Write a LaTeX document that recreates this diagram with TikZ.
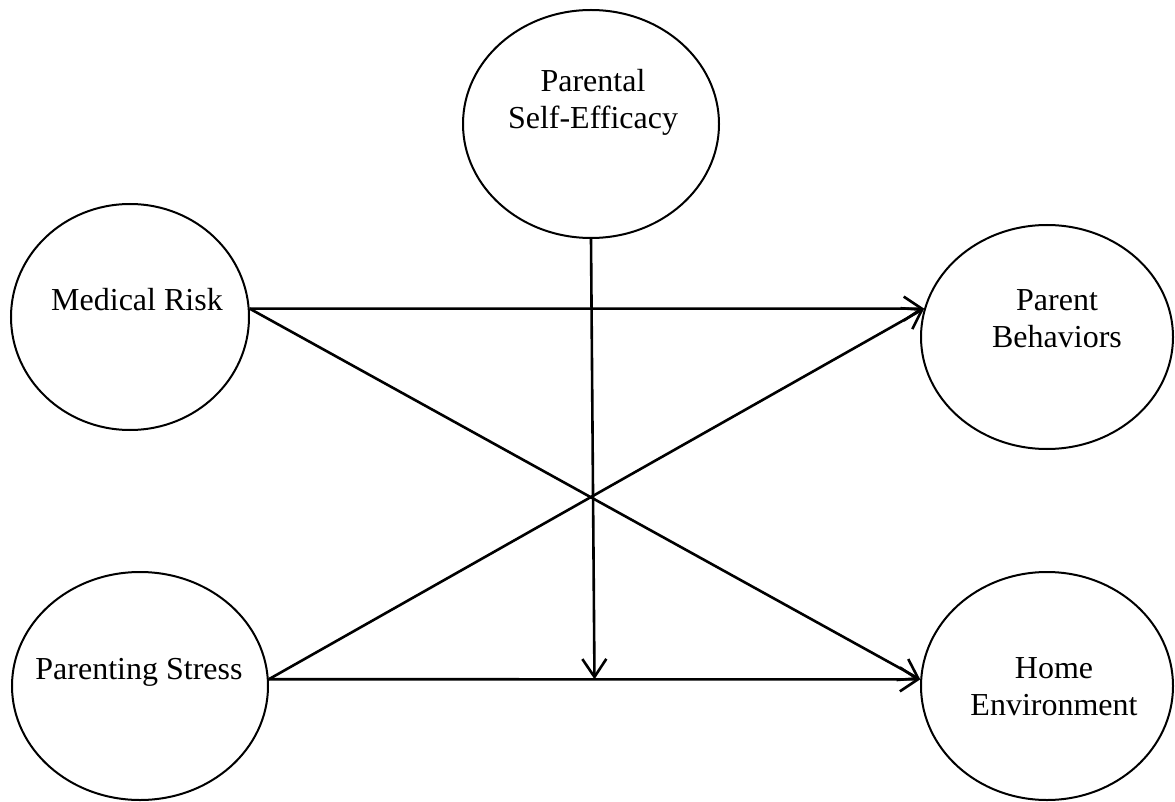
\documentclass[tikz,border=0pt]{standalone}
\usepackage{fontspec}
\setmainfont{Liberation Serif}
\usetikzlibrary{shapes.geometric,arrows.meta,calc}
\begin{document}
\begin{tikzpicture}[x=1pt,y=-1pt,
  latent/.style={ellipse,draw,line width=2pt,inner sep=0pt},
  lbl/.style={font=\fontsize{32}{37}\selectfont,inner sep=0pt,align=center},
  effect/.style={line width=2.6pt,-{Straight Barb[length=18pt,width=24pt,line width=2.6pt]}}]
\useasboundingbox (0,0) rectangle (1175,802);
% constructs
\node[latent,minimum width=256pt,minimum height=228pt] (pse) at (591,124) {};
\node[latent,minimum width=238pt,minimum height=226pt] (mr) at (130,317) {};
\node[latent,minimum width=256pt,minimum height=228pt] (ps) at (140,686) {};
\node[latent,minimum width=252pt,minimum height=224pt] (pb) at (1047,337) {};
\node[latent,minimum width=252pt,minimum height=228pt] (he) at (1047,686) {};
% labels
\node[lbl,anchor=north] (psel) at (593,69) {Parental\\Self-Efficacy};
\node[lbl,anchor=base] (mrl) at (137,311) {Medical Risk};
\node[lbl,anchor=base] (psl) at (139,679) {Parenting Stress};
\node[lbl,anchor=north] (pbl) at (1057,289) {Parent\\Behaviors};
\node[lbl,anchor=north] (hel) at (1054,657) {Home\\Environment};
% paths
\draw[effect] (mr.4) -- (pb.167);
\draw[effect] (mr.4) -- (he.177);
\draw[effect] (ps.3) -- (pb.167);
\draw[effect] (ps.3) -- (he.177);
\coordinate (mod) at ($(ps.3)!0.5!(he.177)$);
\draw[effect] (pse.south) -- (mod);
\end{tikzpicture}
\end{document}
